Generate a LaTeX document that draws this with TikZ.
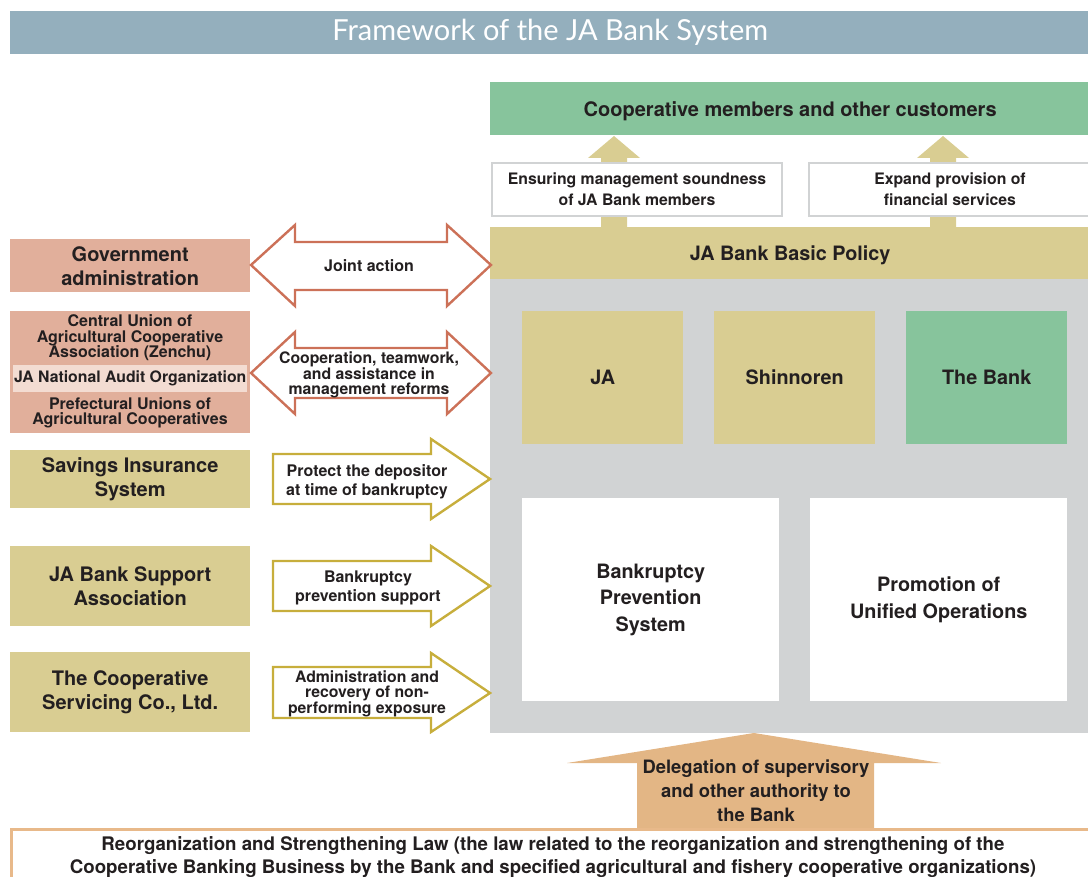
\documentclass[tikz,border=0pt]{standalone}
\usepackage{fontspec}
\setmainfont{TeX Gyre Heros}
\newfontfamily\titlefont{Lato}
\usetikzlibrary{positioning}

\definecolor{ink}{HTML}{231F20}
\definecolor{titleblue}{HTML}{94AFBD}
\definecolor{custgreen}{HTML}{87C49C}
\definecolor{tan}{HTML}{D9CD92}
\definecolor{panelgray}{HTML}{D1D3D4}
\definecolor{salmon}{HTML}{E1AF9B}
\definecolor{salmonlt}{HTML}{F3DCD2}
\definecolor{redline}{HTML}{CC7158}
\definecolor{goldline}{HTML}{C7AE3C}
\definecolor{delegfill}{HTML}{E3B685}
\definecolor{lawline}{HTML}{E8B98A}

\newcommand{\boldsz}[2]{\fontsize{#1}{#2}\selectfont\bfseries}

\begin{document}
\begin{tikzpicture}[x=1pt,y=-1pt,
    box/.style={inner sep=0pt,anchor=north west,align=center,text=ink},
    lbl/.style={inner sep=0pt,align=center,text=ink},
    twoway/.style={fill=white,draw=redline,line width=2.4pt,line join=miter},
    oneway/.style={fill=white,draw=goldline,line width=2.4pt,line join=miter},
    framed/.style={box,fill=white,draw=panelgray,line width=2pt}]
\useasboundingbox (0,0) rectangle (1088,877);
\clip (0,0) rectangle (1088,877);

% title bar
\node[box,fill=titleblue,minimum width=1080,minimum height=43,text=white,
      font=\titlefont\fontsize{29}{32}\selectfont] (title) at (10,11) {Framework of the JA Bank System};

% right column
\node[box,fill=custgreen,minimum width=600,minimum height=53,text depth=0pt,font=\boldsz{20}{22}] (cust) at (490,82) {Cooperative members and other customers};
\fill[tan] (601,227)--(601,158)--(588,158)--(614,136)--(640,158)--(627,158)--(627,227)--cycle;
\fill[tan] (930,227)--(930,158)--(917,158)--(943,136)--(969,158)--(956,158)--(956,227)--cycle;
\node[framed,minimum width=290,minimum height=53,font=\boldsz{15.8}{21}] (sound) at (491,162) {Ensuring management soundness\\of JA Bank members};
\node[framed,minimum width=290,minimum height=53,font=\boldsz{15.8}{21}] (expand) at (808,162) {\hspace*{-8pt}Expand provision of\\\hspace*{-8pt}financial services};
\node[box,fill=tan,minimum width=600,minimum height=52,text depth=0pt,font=\boldsz{19.8}{22}] (policy) at (490,227) {JA Bank Basic Policy};
\node[box,fill=panelgray,minimum width=600,minimum height=454] (panel) at (490,279) {};

\node[box,fill=tan,minimum width=161,minimum height=133,font=\boldsz{19.8}{22}] (ja) at (522,311) {JA};
\node[box,fill=tan,minimum width=161,minimum height=133,font=\boldsz{19.8}{22}] (shin) at (714,311) {Shinnoren};
\node[box,fill=custgreen,minimum width=161,minimum height=133,font=\boldsz{19.8}{22}] (bank) at (906,311) {The Bank};
\node[box,fill=white,minimum width=257,minimum height=203,font=\boldsz{19.8}{26.5}] (prevent) at (522,498) {Bankruptcy\\Prevention\\System};
\node[box,fill=white,minimum width=257,minimum height=203,font=\boldsz{19.8}{26.5}] (unified) at (810,498) {Promotion of\\Unified Operations};

% delegation arrow and law
\fill[delegfill] (637,830)--(637,763)--(567,763)--(754,733)--(941,763)--(874,763)--(874,830)--cycle;
\node[lbl,font=\boldsz{18.4}{24}] (deleg) at (756,791) {Delegation of supervisory\\and other authority to\\the Bank};
\draw[lawline,line width=3pt,fill=white] (11,829.5) rectangle (1100,900);
\node[lbl,font=\boldsz{18.7}{23}] (law) at (553,857.5) {Reorganization and Strengthening Law (the law related to the reorganization and strengthening of the\\Cooperative Banking Business by the Bank and specified agricultural and fishery cooperative organizations)};

% left column
\node[box,fill=salmon,minimum width=240,minimum height=53,font=\boldsz{20}{24}] (gov) at (10,239) {Government\\administration};
\node[box,fill=salmon,minimum width=240,minimum height=122] (unions) at (10,311) {};
\node[lbl,font=\boldsz{16}{15.5}] (zenchu) at (130,338) {Central Union of\\Agricultural Cooperative\\Association (Zenchu)};
\node[box,fill=salmonlt,minimum width=234,minimum height=27,font=\boldsz{15.8}{16}] (audit) at (13,365) {JA National Audit Organization};
\node[lbl,font=\boldsz{16}{15.5}] (pref) at (130,413) {Prefectural Unions of\\Agricultural Cooperatives};
\node[box,fill=tan,minimum width=240,minimum height=58,font=\boldsz{20}{24}] (savings) at (10,450) {Savings Insurance\\System};
\node[box,fill=tan,minimum width=240,minimum height=80,font=\boldsz{20}{24}] (support) at (10,546) {JA Bank Support\\Association};
\node[box,fill=tan,minimum width=240,minimum height=80,font=\boldsz{20}{24}] (servicing) at (10,652) {The Cooperative\\Servicing Co., Ltd.};

% arrows between the columns
\draw[twoway] (251,265)--(295,225)--(295,242)--(447,242)--(447,225)--(491,265)--(447,306)--(447,290)--(295,290)--(295,306)--cycle;
\node[lbl,font=\boldsz{16}{16}] (joint) at (369,266) {Joint action};
\draw[twoway] (251,373)--(295,332)--(295,348)--(447,348)--(447,332)--(491,373)--(447,414)--(447,398)--(295,398)--(295,414)--cycle;
\node[lbl,font=\boldsz{15.8}{14.6}] (coop) at (369,375) {Cooperation, teamwork,\\and assistance in\\management reforms};

\draw[oneway] (273,454)--(431,454)--(431,439)--(490,479)--(431,519)--(431,504)--(273,504)--cycle;
\node[lbl,font=\boldsz{16}{19.5}] (protect) at (367,482) {Protect the depositor\\at time of bankruptcy};
\draw[oneway] (273,561)--(431,561)--(431,546)--(490,586)--(431,626)--(431,611)--(273,611)--cycle;
\node[lbl,font=\boldsz{16}{19.5}] (prevsup) at (368,588) {Bankruptcy\\prevention support};
\draw[oneway] (273,667)--(431,667)--(431,653)--(490,693)--(431,732)--(431,718)--(273,718)--cycle;
\node[lbl,font=\boldsz{15.8}{14.6}] (recover) at (367,694) {Administration and\\recovery of non-\\performing exposure};
\end{tikzpicture}
\end{document}
